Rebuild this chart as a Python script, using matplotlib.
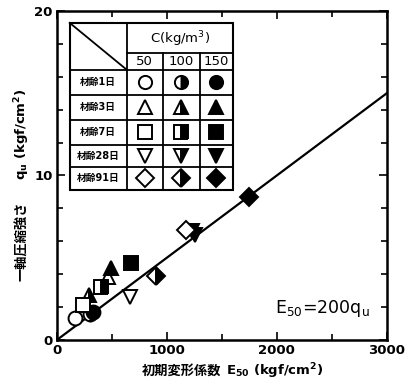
import matplotlib
matplotlib.use("Agg")
import matplotlib.pyplot as plt
from matplotlib.ticker import MultipleLocator

plt.rcParams['font.family'] = ['DejaVu Sans', 'Noto Sans CJK JP']
plt.rcParams['mathtext.fontset'] = 'dejavusans'

# ages (rows of the key) and cement contents (columns of the key)
ages = ['材齢1日', '材齢3日', '材齢7日', '材齢28日', '材齢91日']
age_markers = ['o', '^', 's', 'v', 'D']
cements = ['50', '100', '150']
fills = ['none', 'right', 'full']

# measured points: (age index, cement index, E50, qu)
pt_age = [0, 0, 0, 1, 1, 1, 2, 2, 2, 3, 3, 3, 4, 4, 4]
pt_cem = [0, 1, 2, 0, 1, 2, 0, 1, 2, 0, 1, 2, 0, 1, 2]
pt_e50 = [163, 300, 329, 465, 290, 496, 239, 405, 677, 662, 1230, 1260, 1176, 904, 1750]
pt_qu = [1.32, 1.6, 1.72, 3.85, 2.75, 4.36, 2.13, 3.24, 4.66, 2.63, 6.6, 6.4, 6.69, 3.89, 8.71]

line_ratio = 200  # E50 = 200 qu

W, H = 412, 389
fig = plt.figure(figsize=(W / 100, H / 100), dpi=100)
ax = fig.add_axes([0.138, 0.126, 0.801, 0.846])


def style(fill):
    if fill == 'none':
        return dict(markerfacecolor='white', markeredgecolor='black')
    if fill == 'full':
        return dict(markerfacecolor='black', markeredgecolor='black')
    return dict(fillstyle='right', markerfacecolor='black',
                markerfacecoloralt='white', markeredgecolor='black')


ax.plot([0, 3000], [0, 3000 / line_ratio], color='black', lw=1.6, zorder=2)

for a, c, e, q in zip(pt_age, pt_cem, pt_e50, pt_qu):
    ax.plot(e, q, marker=age_markers[a], markersize=10 if age_markers[a] != 'D' else 9,
            markeredgewidth=1.4, linestyle='none', zorder=3, **style(fills[c]))

ax.set_xlim(0, 3000)
ax.set_ylim(0, 20)
ax.xaxis.set_major_locator(MultipleLocator(1000))
ax.xaxis.set_minor_locator(MultipleLocator(500))
ax.yaxis.set_major_locator(MultipleLocator(10))
ax.yaxis.set_minor_locator(MultipleLocator(2))
ax.tick_params(which='both', direction='in', top=True, right=True, width=1.2)
ax.tick_params(which='major', length=6, labelsize=9.5, pad=3)
ax.tick_params(which='minor', length=4)
for lab in ax.get_xticklabels() + ax.get_yticklabels():
    lab.set_fontweight('bold')
for sp in ax.spines.values():
    sp.set_linewidth(1.8)

# axis titles: Japanese part and the symbol/unit part drawn side by side
cjk_kw = dict(fontsize=9.5, fontweight='bold', family='Noto Sans CJK JP')
lat_kw = dict(fontsize=9.5, fontweight='bold')
fig.text(221 / W, 1 - 375 / H, '初期変形係数', ha='right', va='baseline', **cjk_kw)
fig.text(226 / W, 1 - 375 / H, r'E$_\mathbf{50}$ (kgf/cm$^\mathbf{2}$)',
         ha='left', va='baseline', **lat_kw)
fig.text(26 / W, 1 - 281 / H, '一軸圧縮強さ', ha='left', va='baseline',
         rotation=90, rotation_mode='anchor', **cjk_kw)
fig.text(26 / W, 1 - 180 / H, r'q$_\mathbf{u}$ (kgf/cm$^\mathbf{2}$)', ha='left',
         va='baseline', rotation=90, rotation_mode='anchor', **lat_kw)

ax.text(0.66, 0.095, r'E$_\mathrm{50}$=200q$_\mathrm{u}$', transform=ax.transAxes,
        fontsize=12.5, ha='left', va='center')

# key table in the upper left corner
tx = [0.039, 0.212, 0.321, 0.433, 0.533]
ty = [0.9635, 0.872, 0.821, 0.745, 0.669, 0.593, 0.526, 0.456]
T = ax.transAxes
kw = dict(color='black', lw=1.3, transform=T, zorder=5, clip_on=False)
ax.add_patch(plt.Rectangle((tx[0], ty[-1]), tx[-1] - tx[0], ty[0] - ty[-1],
                           facecolor='white', edgecolor='black', lw=1.5,
                           transform=T, zorder=4))
ax.plot([tx[0], tx[1]], [ty[0], ty[2]], **kw)
ax.plot([tx[1], tx[1]], [ty[0], ty[-1]], **kw)
for x in tx[2:4]:
    ax.plot([x, x], [ty[1], ty[-1]], **kw)
ax.plot([tx[1], tx[-1]], [ty[1], ty[1]], **kw)
for y in ty[2:-1]:
    ax.plot([tx[0], tx[-1]], [y, y], **kw)

ax.text((tx[1] + tx[-1]) / 2, (ty[0] + ty[1]) / 2 - 0.005, r'C(kg/m$^\mathrm{3}$)',
        transform=T, fontsize=9.5, ha='center', va='center', zorder=6)
for j, c in enumerate(cements):
    ax.text((tx[j + 1] + tx[j + 2]) / 2, (ty[1] + ty[2]) / 2, c, transform=T,
            fontsize=9.5, ha='center', va='center', zorder=6)
for i, name in enumerate(ages):
    yc = (ty[i + 2] + ty[i + 3]) / 2
    ax.text((tx[0] + tx[1]) / 2, yc, name, transform=T, fontsize=7,
            fontweight='bold', ha='center', va='center', zorder=6)
    for j, f in enumerate(fills):
        ax.plot((tx[j + 1] + tx[j + 2]) / 2, yc, marker=age_markers[i],
                markersize=9.5 if age_markers[i] != 'D' else 9,
                markeredgewidth=1.4, linestyle='none', transform=T, zorder=6,
                clip_on=False, **style(f))

fig.savefig('out.png', dpi=100)
